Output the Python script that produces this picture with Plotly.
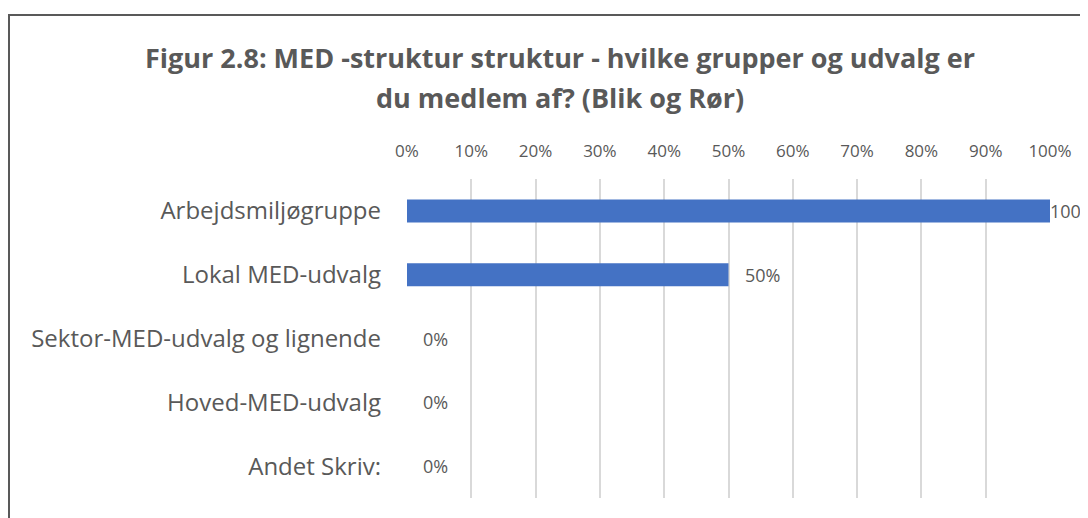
import plotly.graph_objects as go

categories = ["Arbejdsmiljøgruppe", "Lokal MED-udvalg", "Sektor-MED-udvalg og lignende",
              "Hoved-MED-udvalg", "Andet Skriv:"]
values = [1.00, 0.50, 0.0, 0.0, 0.0]
labels = ["100%", "50%", "0%", "0%", "0%"]
tick_vals = [i / 10 for i in range(11)]
tick_text = [f"{i*10}%" for i in range(11)]
title_lines = ["Figur 2.8: MED -struktur struktur - hvilke grupper og udvalg er",
               "du medlem af? (Blik og Rør)"]

OFF = 8  # browser body margin
W, H = 1088, 518
L, R, T, B = 407 - OFF, W - (1050 - OFF), 179 - OFF, H - (498 - OFF)
pw, ph = W - L - R, H - T - B
FONT = "Open Sans"
TXT = "#595959"

fig = go.Figure(go.Bar(
    y=categories, x=values, orientation="h",
    marker=dict(color="#4472C4", line=dict(width=0)),
    width=0.36, hoverinfo="skip",
))

annotations = []
for c, v, lab in zip(categories, values, labels):
    annotations.append(dict(
        x=v, y=c, xref="x", yref="y", text=lab, showarrow=False,
        xanchor="left", yanchor="middle",
        xshift=(-2 if v >= 1 else 14),
        font=dict(family=FONT, size=18, color=TXT),
    ))

def px_to_paper_x(px):
    return (px - OFF - L) / pw

def px_to_paper_y(py):
    return 1 - (py - OFF - T) / ph

for line, yc in zip(title_lines, [57, 97]):
    annotations.append(dict(
        x=px_to_paper_x(560), y=px_to_paper_y(yc), xref="paper", yref="paper",
        text=f"<b>{line}</b>", showarrow=False, xanchor="center", yanchor="middle",
        font=dict(family=FONT, size=27, color=TXT),
    ))

fig.update_layout(
    width=W, height=H,
    margin=dict(l=L, r=R, t=T, b=B, autoexpand=False),
    paper_bgcolor="white", plot_bgcolor="white",
    showlegend=False,
    xaxis=dict(
        range=[0, 1], side="top", tickvals=tick_vals, ticktext=tick_text,
        showgrid=True, gridcolor="#d9d9d9", gridwidth=1.5,
        zeroline=False, showline=False, ticks="",
        tickfont=dict(family=FONT, size=17, color=TXT),
        ticklabelstandoff=18, fixedrange=True,
    ),
    yaxis=dict(
        categoryorder="array", categoryarray=categories[::-1],
        range=[-0.5, 4.5], showgrid=False, zeroline=False, showline=False,
        ticks="", tickfont=dict(family=FONT, size=24, color=TXT),
        ticklabelstandoff=25, fixedrange=True,
    ),
    annotations=annotations,
    shapes=[dict(
        type="rect", xref="paper", yref="paper",
        x0=px_to_paper_x(9), x1=px_to_paper_x(W + 20),
        y0=px_to_paper_y(H + 20), y1=px_to_paper_y(15),
        line=dict(color="#595959", width=2), fillcolor="rgba(0,0,0,0)",
        layer="below",
    )],
)

fig.write_html("out.html")
